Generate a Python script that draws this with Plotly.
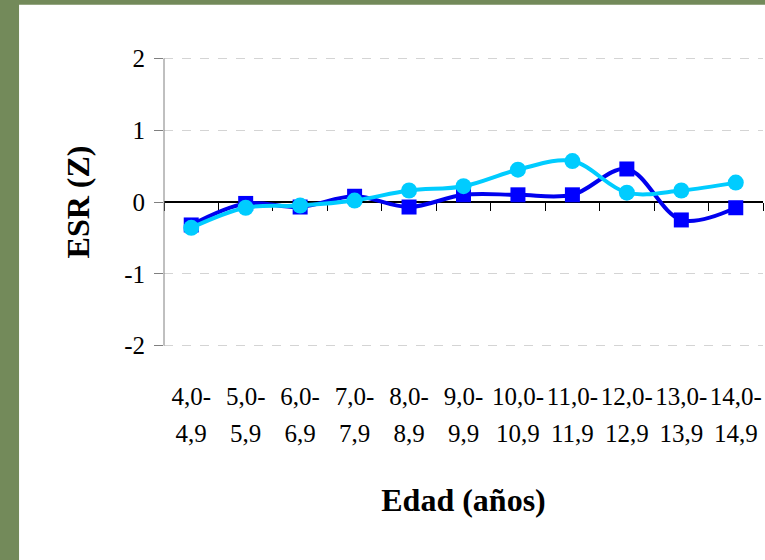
import plotly.graph_objects as go

# ---- data ----
age_from = ["4,0-", "5,0-", "6,0-", "7,0-", "8,0-", "9,0-", "10,0-", "11,0-", "12,0-", "13,0-", "14,0-"]
age_to = ["4,9", "5,9", "6,9", "7,9", "8,9", "9,9", "10,9", "11,9", "12,9", "13,9", "14,9"]
esr_squares = [-0.32, -0.02, -0.07, 0.08, -0.07, 0.10, 0.10, 0.10, 0.46, -0.25, -0.08]
esr_circles = [-0.36, -0.08, -0.05, 0.02, 0.16, 0.22, 0.45, 0.57, 0.13, 0.16, 0.27]
y_ticks = [-2, -1, 0, 1, 2]
y_title = "ESR (Z)"
x_title = "Edad (años)"

idx = list(range(len(age_from)))
bounds = [i - 0.5 for i in range(len(age_from) + 1)]
xr = [-0.5, len(age_from) - 0.5]

FONT = "Liberation Serif"
GREEN = "#738a5a"

fig = go.Figure()
fig.add_trace(go.Scatter(
    x=idx, y=esr_squares, mode="lines+markers",
    line=dict(color="#0000ee", width=4, shape="spline", smoothing=1),
    marker=dict(symbol="square", size=15, color="#0000ff"),
    showlegend=False, hoverinfo="skip"))
fig.add_trace(go.Scatter(
    x=idx, y=esr_circles, mode="lines+markers",
    line=dict(color="#00ccff", width=4, shape="spline", smoothing=1),
    marker=dict(symbol="circle", size=16, color="#00ccff"),
    showlegend=False, hoverinfo="skip"))
# carriers so the helper axes (zero line with ticks, second label row) are drawn
fig.add_trace(go.Scatter(x=idx, y=esr_squares, xaxis="x2", mode="none",
                         showlegend=False, hoverinfo="skip"))
fig.add_trace(go.Scatter(x=idx, y=esr_circles, xaxis="x3", mode="none",
                         showlegend=False, hoverinfo="skip"))

fig.update_layout(
    width=765, height=560,
    margin=dict(l=164, r=2, t=57, b=213, autoexpand=False),
    paper_bgcolor=GREEN,
    plot_bgcolor="white",
    font=dict(family=FONT, color="black"),
    xaxis=dict(
        range=xr, tickmode="array", tickvals=idx, ticktext=age_from,
        showgrid=False, zeroline=False, showline=False, ticks="",
        tickfont=dict(size=25), ticklabelstandoff=32,
        title=dict(text=x_title, font=dict(size=32, family=FONT, weight="bold"), standoff=79),
    ),
    xaxis2=dict(
        overlaying="x", anchor="free", position=0.5, range=xr,
        tickmode="array", tickvals=bounds, showticklabels=False,
        ticks="outside", ticklen=8, tickcolor="black", tickwidth=1,
        showline=True, linecolor="black", linewidth=1.5,
        showgrid=False, zeroline=False, layer="below traces",
    ),
    xaxis3=dict(
        overlaying="x", anchor="y", side="bottom", range=xr,
        tickmode="array", tickvals=idx, ticktext=age_to,
        showgrid=False, zeroline=False, showline=False, ticks="",
        tickfont=dict(size=25), ticklabelstandoff=69,
    ),
    yaxis=dict(
        range=[-2.02, 2.02], tickmode="array", tickvals=y_ticks,
        ticktext=[str(v) for v in y_ticks],
        showgrid=True, gridcolor="#d4d4d4", griddash="dash", gridwidth=1,
        zeroline=False, showline=False, ticks="outside", ticklen=9, tickcolor="#808080",
        tickfont=dict(size=25), ticklabelstandoff=4,
        title=dict(text=y_title, font=dict(size=32, family=FONT, weight="bold"), standoff=24),
    ),
    shapes=[
        dict(type="rect", xref="paper", yref="paper",
             x0=-0.242, x1=1.02, y0=-0.8, y1=1.18,
             fillcolor="white", line=dict(width=0), layer="below"),
        # left axis line spanning exactly the -2..2 tick range
        dict(type="line", xref="paper", yref="y", x0=0, x1=0,
             y0=y_ticks[0], y1=y_ticks[-1], line=dict(color="#808080", width=1)),
    ],
)

fig.write_html(
    "out.html",
    config={"displayModeBar": False},
    post_script="document.body.style.margin='0';document.body.style.background='" + GREEN + "';",
)
